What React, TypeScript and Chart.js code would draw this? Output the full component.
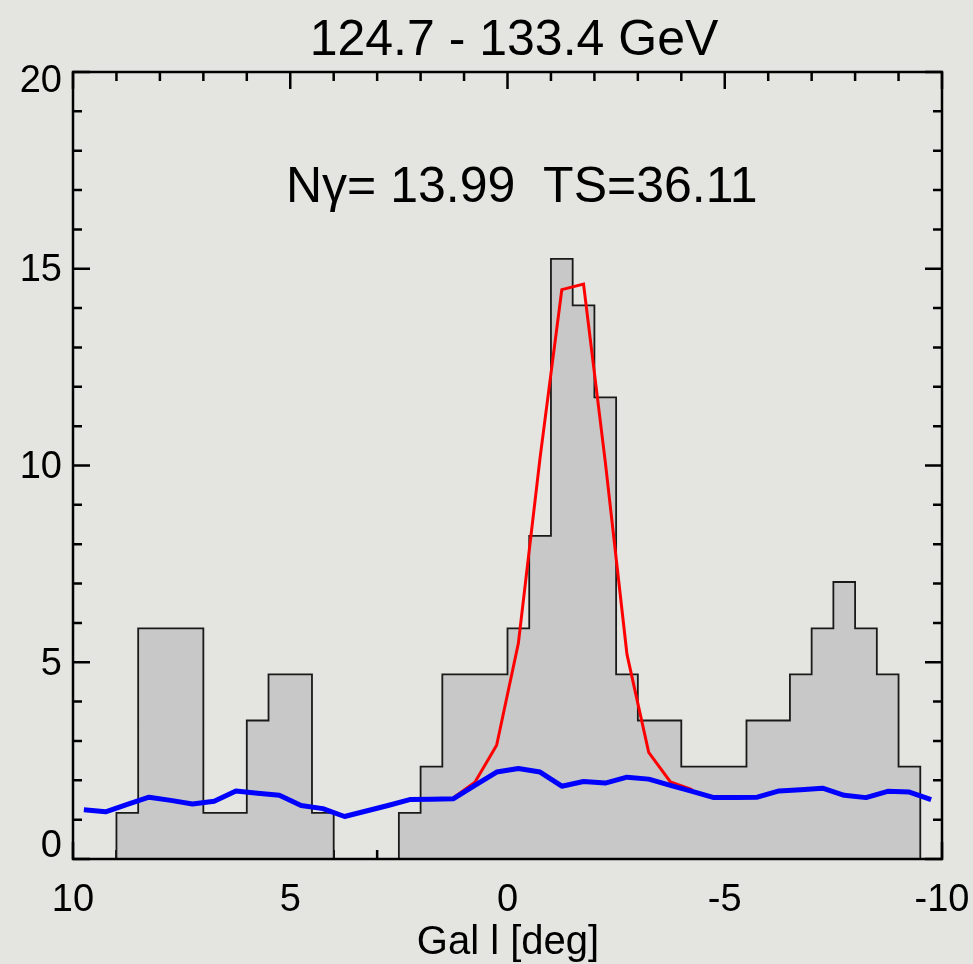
import React, { useEffect, useRef } from 'react';
import { Chart, registerables } from 'chart.js';

Chart.register(...registerables);

const TITLE = '124.7 - 133.4 GeV';
const ANNOTATION = 'Nγ= 13.99  TS=36.11';
const X_TITLE = 'Gal l [deg]';

// Galactic longitude bin centres (0.5 deg bins, from +10 to -10)
const binCenters = [
  9.75, 9.25, 8.75, 8.25, 7.75, 7.25, 6.75, 6.25, 5.75, 5.25,
  4.75, 4.25, 3.75, 3.25, 2.75, 2.25, 1.75, 1.25, 0.75, 0.25,
  -0.25, -0.75, -1.25, -1.75, -2.25, -2.75, -3.25, -3.75, -4.25, -4.75,
  -5.25, -5.75, -6.25, -6.75, -7.25, -7.75, -8.25, -8.75, -9.25, -9.75,
];

// Histogram (grey) values per bin
const histValues = [
  0, 0, 1.17, 5.86, 5.86, 5.86, 1.17, 1.17, 3.52, 4.69,
  4.69, 1.17, 0, 0, 0, 1.17, 2.35, 4.69, 4.69, 4.69,
  5.86, 8.21, 15.25, 14.07, 11.73, 4.69, 3.52, 3.52, 2.35, 2.35,
  2.35, 3.52, 3.52, 4.69, 5.86, 7.04, 5.86, 4.69, 2.35, 0,
];

// Background model (blue) per bin centre
const backgroundValues = [
  1.25, 1.20, 1.39, 1.57, 1.49, 1.40, 1.47, 1.73, 1.67, 1.62,
  1.36, 1.28, 1.08, 1.22, 1.36, 1.51, 1.52, 1.53, 1.87, 2.21,
  2.30, 2.21, 1.85, 1.97, 1.93, 2.08, 2.03, 1.87, 1.72, 1.56,
  1.56, 1.57, 1.73, 1.76, 1.80, 1.62, 1.56, 1.72, 1.70, 1.51,
];

// Line + background model (red)
const modelCenters = [1.25, 0.75, 0.25, -0.25, -0.75, -1.25, -1.75, -2.25, -2.75, -3.25, -3.75, -4.25];
const modelValues = [1.55, 1.95, 2.89, 5.48, 10.2, 14.47, 14.61, 10.1, 5.2, 2.71, 1.96, 1.76];

const xTickLabels = [10, 5, 0, -5, -10];
const yTickLabels = [0, 5, 10, 15, 20];

const FONT = '"Liberation Sans", Arial, Helvetica, sans-serif';
const W = 973;
const H = 964;

const framePlugin = {
  id: 'idlFrame',
  beforeDatasetsDraw(chart: any) {
    const { ctx, chartArea: a, scales } = chart;
    const xs = scales.x;
    const ys = scales.y;
    ctx.save();
    ctx.strokeStyle = '#000';
    ctx.lineWidth = 2.5;
    ctx.beginPath();
    for (let v = -10; v <= 10; v += 1) {
      const px = xs.getPixelForValue(v);
      const len = v % 5 === 0 ? 17 : 9;
      ctx.moveTo(px, a.bottom);
      ctx.lineTo(px, a.bottom - len);
      ctx.moveTo(px, a.top);
      ctx.lineTo(px, a.top + len);
    }
    for (let v = 0; v <= 20; v += 1) {
      const py = ys.getPixelForValue(v);
      const len = v % 5 === 0 ? 17 : 9;
      ctx.moveTo(a.left, py);
      ctx.lineTo(a.left + len, py);
      ctx.moveTo(a.right, py);
      ctx.lineTo(a.right - len, py);
    }
    ctx.stroke();
    ctx.restore();
  },
  afterDatasetsDraw(chart: any) {
    const { ctx, chartArea: a, scales } = chart;
    const xs = scales.x;
    const ys = scales.y;
    ctx.save();
    ctx.strokeStyle = '#000';
    ctx.lineWidth = 2.5;
    ctx.strokeRect(a.left, a.top, a.right - a.left, a.bottom - a.top);

    ctx.fillStyle = '#000';
    // title
    ctx.font = `50px ${FONT}`;
    ctx.textAlign = 'center';
    ctx.textBaseline = 'alphabetic';
    ctx.fillText(TITLE, 514, 55);

    // annotation
    ctx.textAlign = 'left';
    ctx.font = `50px ${FONT}`;
    ctx.fillText(ANNOTATION, 286, 202);

    // x tick labels
    ctx.font = `38px ${FONT}`;
    ctx.textAlign = 'center';
    ctx.textBaseline = 'alphabetic';
    xTickLabels.forEach((v) => {
      ctx.fillText(String(v), xs.getPixelForValue(v), 911);
    });

    // y tick labels
    ctx.textAlign = 'right';
    ctx.textBaseline = 'middle';
    yTickLabels.forEach((v, i) => {
      let off = 2;
      if (i === 0) off = -12;
      if (i === yTickLabels.length - 1) off = 10;
      ctx.fillText(String(v), 62, ys.getPixelForValue(v) + off);
    });

    // x axis title
    ctx.font = `40px ${FONT}`;
    ctx.textAlign = 'center';
    ctx.textBaseline = 'alphabetic';
    ctx.fillText(X_TITLE, 508, 954);
    ctx.restore();
  },
};

export default function App() {
  const ref = useRef<HTMLCanvasElement | null>(null);

  useEffect(() => {
    if (!ref.current) return;
    const histPoints = binCenters.map((c, i) => ({ x: c + 0.25, y: histValues[i] }));
    histPoints.push({ x: binCenters[binCenters.length - 1] - 0.25, y: histValues[histValues.length - 1] });
    const bgPoints = binCenters.map((c, i) => ({ x: c, y: backgroundValues[i] }));
    const modelPoints = modelCenters.map((c, i) => ({ x: c, y: modelValues[i] }));

    const chart = new Chart(ref.current, {
      type: 'line',
      data: {
        datasets: [
          {
            label: 'background',
            data: bgPoints,
            borderColor: '#0000ff',
            borderWidth: 5,
            pointRadius: 0,
            fill: false,
            tension: 0,
            borderJoinStyle: 'round',
          },
          {
            label: 'model',
            data: modelPoints,
            borderColor: '#ff0000',
            borderWidth: 3,
            pointRadius: 0,
            fill: false,
            tension: 0,
          },
          {
            label: 'counts',
            data: histPoints,
            borderColor: '#1a1a1a',
            borderWidth: 1.8,
            backgroundColor: '#c8c8c8',
            pointRadius: 0,
            fill: 'origin',
            stepped: true,
            tension: 0,
          },
        ],
      },
      options: {
        animation: false,
        responsive: false,
        devicePixelRatio: 1,
        layout: { padding: { left: 73, top: 72, right: W - 942, bottom: H - 859 } },
        plugins: {
          legend: { display: false },
          tooltip: { enabled: false },
          title: { display: false },
        },
        scales: {
          x: { type: 'linear', reverse: true, min: -10, max: 10, display: false },
          y: { type: 'linear', min: 0, max: 20, display: false },
        },
      },
      plugins: [framePlugin],
    });
    return () => chart.destroy();
  }, []);

  return (
    <div
      style={{
        position: 'fixed',
        left: 0,
        top: 0,
        width: W,
        height: H,
        overflow: 'hidden',
        background: '#e4e4e0',
      }}
    >
      <canvas ref={ref} width={W} height={H} style={{ width: W, height: H, display: 'block' }} />
    </div>
  );
}
